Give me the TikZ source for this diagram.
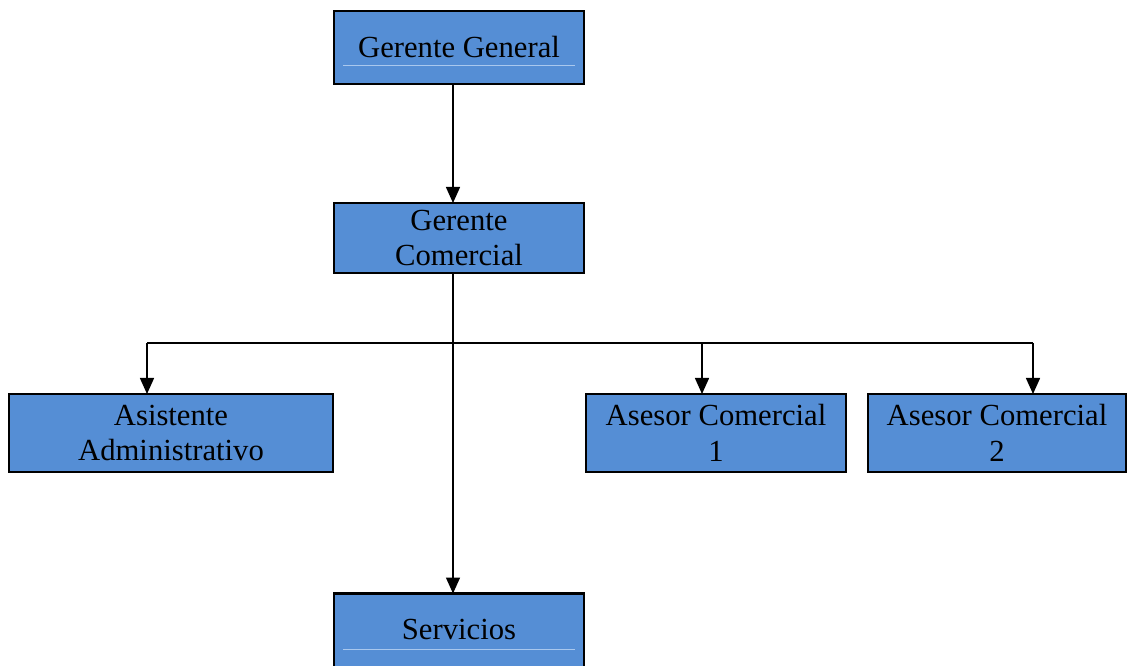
\documentclass[tikz,border=0pt]{standalone}
\usepackage{fontspec}
\setmainfont{Liberation Serif}
\usetikzlibrary{arrows.meta}
\definecolor{cajaazul}{HTML}{558ED5}
\definecolor{lineaclara}{HTML}{A9C8EE}

\begin{document}
\begin{tikzpicture}[x=0.75pt, y=-0.75pt, >={Triangle[length=12pt, width=10.5pt]}]

% Styles
\tikzset{
  cargo/.style={draw=black, fill=cajaazul, line width=1.6pt, align=center,
    inner sep=0pt, outer sep=0pt, font=\fontsize{23}{26.5}\selectfont},
  conector/.style={->, line width=1.1pt},
}

\useasboundingbox (0,0) rectangle (1128,666);

% Boxes
\node[cargo, minimum width=187.5pt, minimum height=55pt] (gg) at (459,47.5) {Gerente General};
\node[cargo, minimum width=187.5pt, minimum height=52.5pt] (gc) at (459,238) {Gerente\\Comercial};
\node[cargo, minimum width=243pt, minimum height=58.5pt] (aa) at (171,433) {Asistente\\Administrativo};
\node[cargo, minimum width=195pt, minimum height=58.5pt] (ac1) at (716,433) {Asesor Comercial\\1};
\node[cargo, minimum width=193.5pt, minimum height=58.5pt] (ac2) at (997,433) {Asesor Comercial\\2};
\node[cargo, minimum width=187.5pt, minimum height=57pt, anchor=north] (sv) at (459,593.5) {\raisebox{3pt}{Servicios}};

% Thin light lines under the text
\draw[lineaclara, line width=0.6pt] (343,65) -- (575,65);
\draw[lineaclara, line width=0.6pt] (343,649) -- (575,649);

% Bus points
\coordinate (eje) at (453,343);
\coordinate (busI) at (147,343);
\coordinate (busC) at (702,343);
\coordinate (busD) at (1033,343);

% Connectors
\draw[conector] (gg.south -| eje) -- (gc.north -| eje);
\draw[conector] (gc.south -| eje) -- (sv.north -| eje);
\draw[line width=1.1pt] (busI) -- (busD);
\draw[conector] (busI) -- (aa.north -| busI);
\draw[conector] (busC) -- (ac1.north -| busC);
\draw[conector] (busD) -- (ac2.north -| busD);

\end{tikzpicture}
\end{document}
